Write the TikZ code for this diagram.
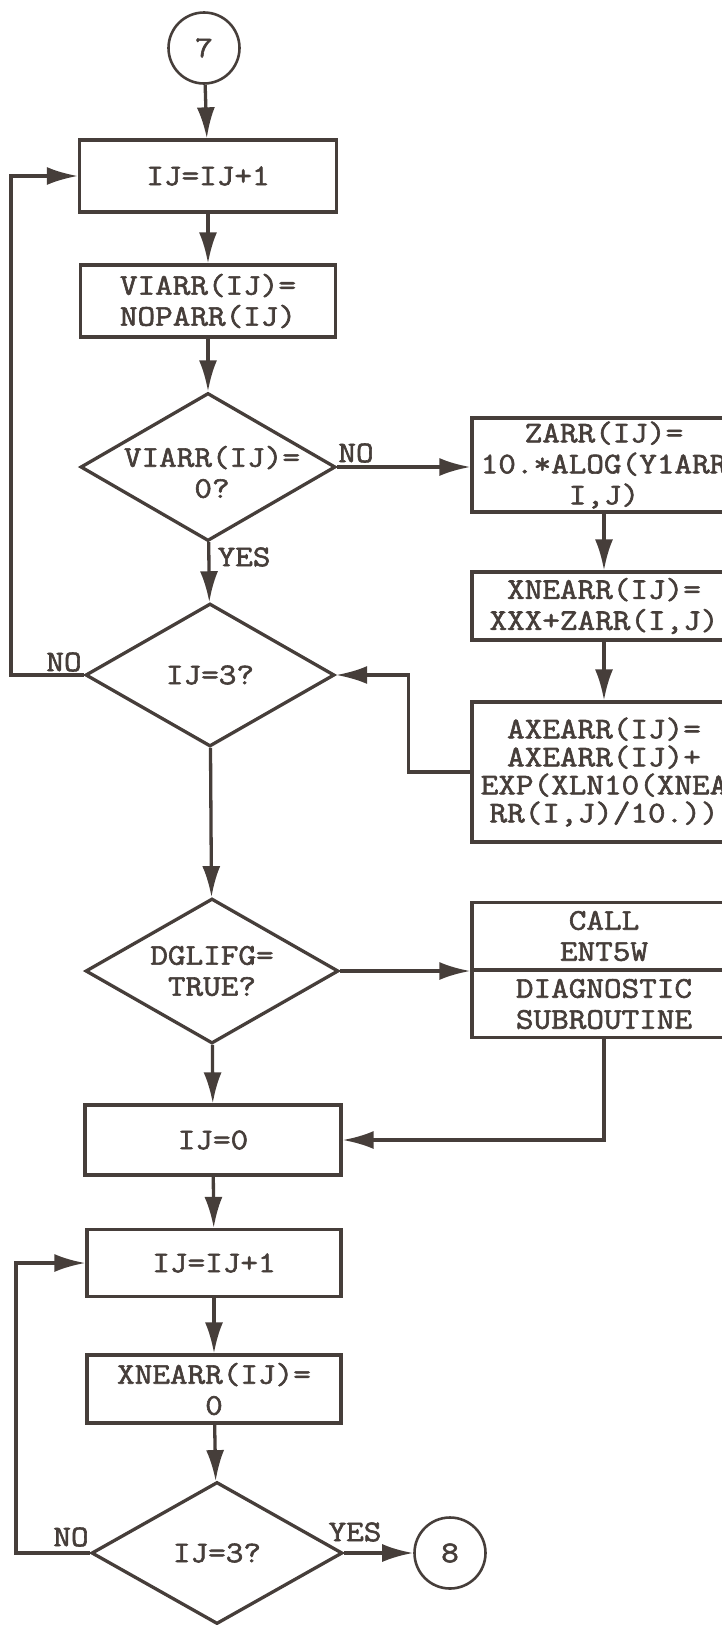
\documentclass[tikz,border=0pt]{standalone}
\usepackage{fontspec}
\newfontfamily\typew{Latin Modern Mono}[FakeStretch=1.14,FakeBold=2]
\usepackage{tikz}
\usetikzlibrary{arrows.meta,positioning,calc,shapes.geometric}
\definecolor{ink}{RGB}{70,62,58}

\begin{document}
\begin{tikzpicture}[x=1pt, y=-1pt, line width=3.3pt, color=ink,
  every node/.style={font=\typew\fontsize{30}{31}\selectfont, align=center},
  proc/.style={rectangle, draw, inner sep=0pt},
  dec/.style={diamond, draw, inner sep=0pt},
  conn/.style={circle, draw, line width=2.6pt, inner sep=0pt, minimum size=71pt},
  tag/.style={inner sep=0pt},
  arr/.style={-{Latex[length=31pt,width=18pt]}}]
\path[use as bounding box, clip] (0,0) rectangle (722,1625);

% connectors 7 and 8
\node[conn] (c7) at (204,48) {7};
\node[conn] (c8) at (450,1553) {8};

% left column boxes
\foreach \name/\x/\y/\w/\h/\txt in {b1/208/176/257/72/{IJ=IJ+1},
    b2/208/301/255/72/{VIARR(IJ)=\\NOPARR(IJ)},
    ij0/213/1140/256/70/{IJ=0},
    b6/214/1263/254/67/{IJ=IJ+1},
    b7/214/1389/254/68/{XNEARR(IJ)=\\0}} {
  \node[proc, minimum width=\w pt, minimum height=\h pt] (\name) at (\x,\y) {\txt};
}

% decisions
\node[dec, minimum width=255pt, minimum height=148pt, label={[xshift=4pt,yshift=-5pt]center:{VIARR(IJ)=\\0?}}] (d1) at (208,467) {};
\node[dec, minimum width=249pt, minimum height=143pt, label={center:{IJ=3?}}] (d2) at (210,675) {};
\node[dec, minimum width=253pt, minimum height=145pt, label={center:{DGLIFG=\\TRUE?}}] (d3) at (212,971) {};
\node[dec, minimum width=251pt, minimum height=142pt, label={center:{IJ=3?}}] (d4) at (217,1553) {};

% right column (runs off the page)
\node[proc, minimum width=264pt, minimum height=94pt] (r1) at (604,465) {ZARR(IJ)=\\10.*ALOG(Y1ARR\\I,J)};
\node[proc, minimum width=264pt, minimum height=68pt] (r2) at (604,606) {XNEARR(IJ)=\\XXX+ZARR(I,J)};
\node[proc, minimum width=264pt, minimum height=140pt] (r3) at (604,772) {AXEARR(IJ)=\\[-3pt]AXEARR(IJ)+\\[-3pt]EXP(XLN10(XNEA\\[-3pt]RR(I,J)/10.))};
\node[proc, minimum width=264pt, minimum height=135pt] (r4) at (604,970) {CALL\\ENT5W\\[6pt]DIAGNOSTIC\\SUBROUTINE};
\draw (r4.west) -- (r4.east);

% branch labels
\node[tag] (no1) at (356,453) {NO};
\node[tag, anchor=west] (yes1) at (216,557) {YES};
\node[tag] (no2) at (64,662) {NO};
\node[tag] (no3) at (71,1537) {NO};
\node[tag] (yes2) at (355,1532) {YES};

% flow
\draw[arr] (c7) -- (b1);
\draw[arr] (b1) -- (b2);
\draw[arr] (b2) -- (d1);
\draw[arr] (d1.east) -- (d1.east -| r1.west);
\draw[arr] (d1) -- (d2);
\draw[arr] (r1) -- (r2);
\draw[arr] (r2) -- (r3);
\draw[arr] (r3.west) -- ++(-62,0) |- (d2.east);
\draw[arr] (d2.west) -- ++(-73,0) |- (b1.west);
\draw[arr] (d2) -- (d3);
\draw[arr] (d3.east) -- (d3.east -| r4.west);
\draw[arr] (d3) -- (ij0);
\draw[arr] (r4.south) |- (ij0.east);
\draw[arr] (ij0) -- (b6);
\draw[arr] (b6) -- (b7);
\draw[arr] (b7) -- (d4);
\draw[arr] (d4.west) -- ++(-74,0) |- (b6.west);
\draw[arr] (d4) -- (c8);
\end{tikzpicture}
\end{document}
